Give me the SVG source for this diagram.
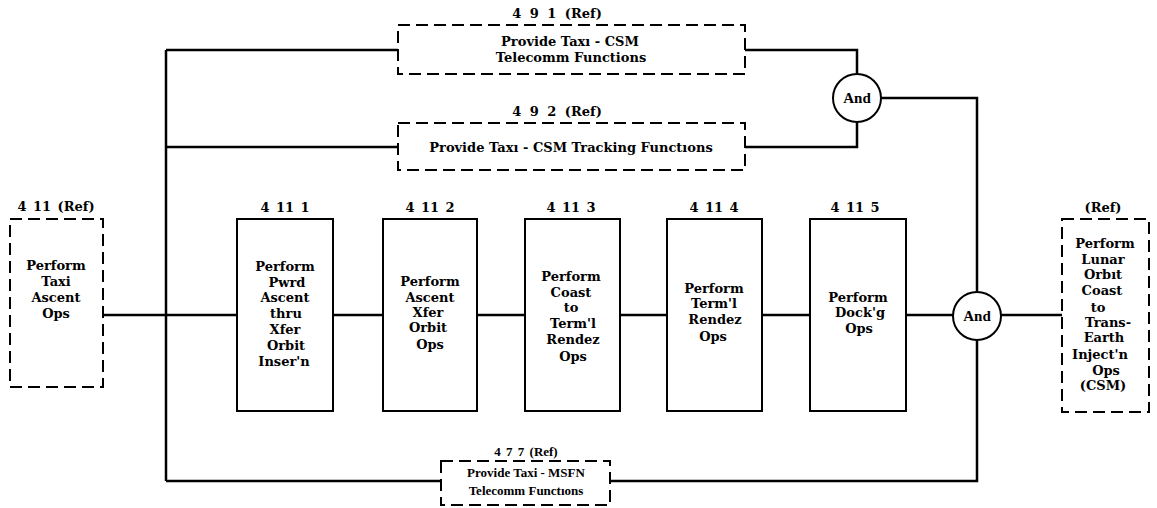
<svg xmlns="http://www.w3.org/2000/svg" width="1157" height="508" viewBox="0 0 1157 508">
<style>
.bg{fill:#fff}
.solid{fill:#fff;stroke:#000;stroke-width:2}
.dash{fill:#fff;stroke:#000;stroke-width:2;stroke-dasharray:12 6}
.conn{fill:none;stroke:#000;stroke-width:2.5}
.and{fill:#fff;stroke:#000;stroke-width:2}
text{font-family:"DejaVu Serif","Liberation Serif",serif;font-weight:bold;font-size:13px;fill:#000;text-anchor:middle}
.lbl{word-spacing:2px}
.alt{font-family:"Liberation Serif","DejaVu Serif",serif;font-size:13px}
.andt{font-family:"Liberation Serif","DejaVu Serif",serif;font-size:15px}
</style>
<rect class="bg" x="0" y="0" width="1157" height="508"/>
<g id="connectors">
<path class="conn" d="M166 50 V481"/>
<path class="conn" d="M166 50 H398"/>
<path class="conn" d="M166 147 H398"/>
<path class="conn" d="M103 315 H237"/>
<path class="conn" d="M333 315 H383"/>
<path class="conn" d="M477 315 H525"/>
<path class="conn" d="M620 315 H667"/>
<path class="conn" d="M762 315 H810"/>
<path class="conn" d="M906 315 H953"/>
<path class="conn" d="M1001 315 H1062"/>
<path class="conn" d="M745 50 H857 V74"/>
<path class="conn" d="M745 147 H857 V122"/>
<path class="conn" d="M881 98 H977 V292"/>
<path class="conn" d="M166 481 H441"/>
<path class="conn" d="M610 481 H977 V340"/>
</g>
<g id="n411ref">
<rect class="dash" x="10" y="219" width="93" height="168"/>
<text class="lbl" x="56" y="211">4 11 (Ref)</text>
<text x="56" y="270">Perform</text>
<text x="56" y="286">Taxi</text>
<text x="56" y="302">Ascent</text>
<text x="56" y="318">Ops</text>
</g>
<g id="n4111">
<rect class="solid" x="237" y="219" width="96" height="192"/>
<text class="lbl" x="285" y="212">4 11 1</text>
<text x="285" y="271">Perform</text>
<text x="287" y="287">Pwrd</text>
<text x="285" y="302">Ascent</text>
<text x="286" y="318">thru</text>
<text x="285" y="334">Xfer</text>
<text x="286" y="350">Orbit</text>
<text x="284" y="366">Inser'n</text>
</g>
<g id="n4112">
<rect class="solid" x="383" y="219" width="94" height="192"/>
<text class="lbl" x="430" y="212">4 11 2</text>
<text x="430" y="286">Perform</text>
<text x="430" y="302">Ascent</text>
<text x="428" y="317">Xfer</text>
<text x="428" y="332">Orbit</text>
<text x="430" y="349">Ops</text>
</g>
<g id="n4113">
<rect class="solid" x="525" y="219" width="95" height="192"/>
<text class="lbl" x="571" y="212">4 11 3</text>
<text x="571" y="281">Perform</text>
<text x="571" y="297">Coast</text>
<text x="571" y="312">to</text>
<text x="573" y="328">Term'l</text>
<text x="573" y="344">Rendez</text>
<text x="573" y="361">Ops</text>
</g>
<g id="n4114">
<rect class="solid" x="667" y="219" width="95" height="192"/>
<text class="lbl" x="714" y="212">4 11 4</text>
<text x="714" y="293">Perform</text>
<text x="714" y="308">Term'l</text>
<text x="715" y="324">Rendez</text>
<text x="713" y="341">Ops</text>
</g>
<g id="n4115">
<rect class="solid" x="810" y="219" width="96" height="192"/>
<text class="lbl" x="855" y="212">4 11 5</text>
<text x="858" y="302">Perform</text>
<text x="860" y="317">Dock'g</text>
<text x="859" y="333">Ops</text>
</g>
<g id="and1">
<circle class="and" cx="977" cy="316" r="24"/>
<text class="andt" x="977" y="321">And</text>
</g>
<g id="nref">
<rect class="dash" x="1062" y="219" width="87" height="193"/>
<text x="1103" y="212">(Ref)</text>
<text x="1105" y="248">Perform</text>
<text x="1103" y="264">Lunar</text>
<text x="1103" y="279">Orbıt</text>
<text x="1102" y="295">Coast</text>
<text x="1098" y="312">to</text>
<text x="1108" y="327">Trans-</text>
<text x="1104" y="342">Earth</text>
<text x="1100" y="359">Inject'n</text>
<text x="1106" y="375">Ops</text>
<text x="1103" y="390">(CSM)</text>
</g>
<g id="n491">
<rect class="dash" x="398" y="25" width="347" height="49"/>
<text class="lbl" x="557" y="18" style="word-spacing:4px">4 9 1 (Ref)</text>
<text x="570" y="46">Provide Taxı - CSM</text>
<text x="571" y="62">Telecomm Functions</text>
</g>
<g id="n492">
<rect class="dash" x="398" y="123" width="347" height="47"/>
<text class="lbl" x="557" y="116" style="word-spacing:4px">4 9 2 (Ref)</text>
<text x="571" y="152">Provide Taxı - CSM Tracking Functıons</text>
</g>
<g id="and2">
<circle class="and" cx="857" cy="98" r="24"/>
<text class="andt" x="857" y="103">And</text>
</g>
<g id="n477">
<rect class="dash" x="441" y="461" width="169" height="44"/>
<text class="alt lbl" x="526" y="456">4 7 7 (Ref)</text>
<text class="alt" x="526" y="477">Provide Taxi - MSFN</text>
<text class="alt" x="526" y="495">Telecomm Functıons</text>
</g>
</svg>
